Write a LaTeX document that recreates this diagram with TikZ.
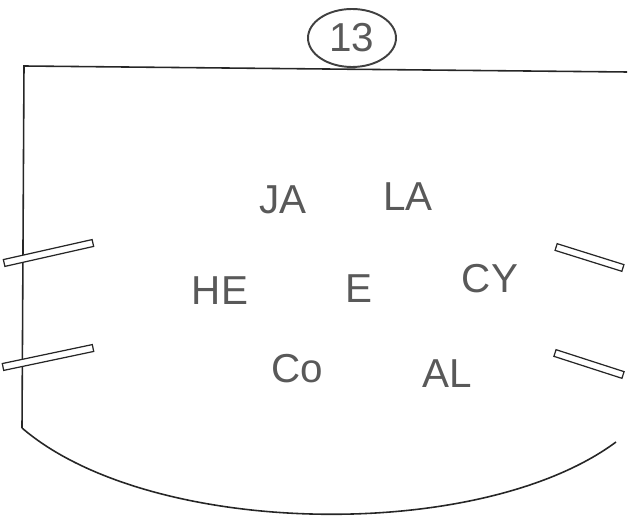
\documentclass[tikz,border=0pt]{standalone}
\usepackage{fontspec}
\setmainfont{Liberation Sans}
\usepackage{tikz}
\usetikzlibrary{positioning}

\tikzset{
    wall/.style={line width=0.9pt, black!85},
    rail/.style={draw=black!85, line width=0.7pt, fill=white, rectangle, inner sep=0pt, minimum height=0.14cm},
    tag/.style={font=\fontsize{23}{23}\selectfont, text=black!65}
}

\begin{document}
\begin{tikzpicture}[x=0.02cm, y=-0.02cm]
    \useasboundingbox (0,0) rectangle (632,526);
    % room outline
    \coordinate (tl) at (24,66);
    \coordinate (tr) at (627,72);
    \coordinate (bl) at (22,428);
    \coordinate (br) at (616,442);
    \draw[wall] (tr) -- (tl) -- (bl);
    \draw[wall] (bl) .. controls (150,538) and (480,543) .. (br);

    % number at the top
    \node[tag] (num) at (352,38) {13};
    \draw[wall, line width=1.1pt, black!75] (num) ellipse [x radius=44, y radius=29];

    % rails on the sides
    \node[rail, minimum width=1.82cm, rotate=12.7] (railLA) at (48.5,253) {};
    \node[rail, minimum width=1.84cm, rotate=11.9] (railLB) at (48,357.5) {};
    \node[rail, minimum width=1.40cm, rotate=-17.4] (railRA) at (589.5,257.5) {};
    \node[rail, minimum width=1.43cm, rotate=-17.9] (railRB) at (589,364) {};

    % names
    \node[tag] (ja) at (283,200) {JA};
    \node[tag] (la) at (408,197) {LA};
    \node[tag] (he) at (220,291) {HE};
    \node[tag] (e)  at (359,289) {E};
    \node[tag] (cy) at (490,279) {CY};
    \node[tag] (co) at (297,369) {Co};
    \node[tag] (al) at (447,374) {AL};
\end{tikzpicture}
\end{document}
